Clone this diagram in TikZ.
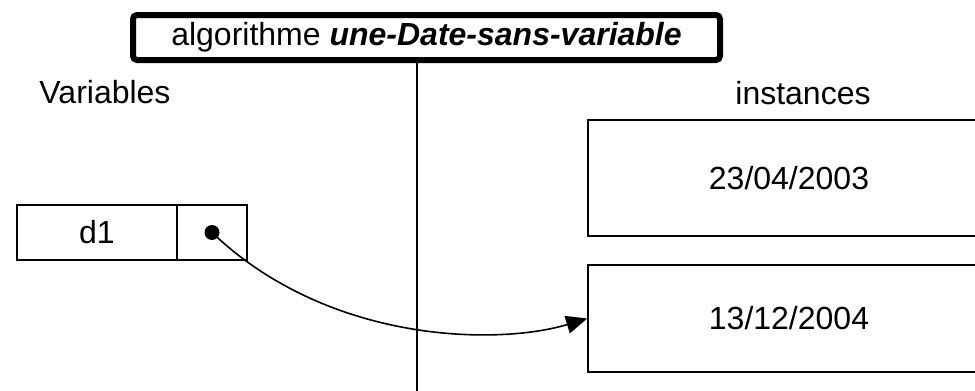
\documentclass[tikz,border=0pt]{standalone}
\usepackage{fontspec}
\setmainfont{Liberation Sans}
\usetikzlibrary{arrows.meta}
\tikzset{
  txt/.style={font=\fontsize{32}{38}\selectfont, inner sep=0pt},
  cell/.style={draw, line width=1.6pt, txt, minimum height=55pt},
  inst/.style={draw, line width=1.6pt, txt, minimum width=402pt},
  titlebox/.style={draw, line width=6pt, rounded corners=4pt, txt, minimum width=587pt, minimum height=45pt},
  link/.style={line width=1.6pt, -{Triangle[length=21pt,width=18pt]}}
}
\begin{document}
\begin{tikzpicture}[x=1pt, y=-1pt]
  \useasboundingbox (0,0) rectangle (975,391);
  \clip (0,0) rectangle (975,391);
  \node[titlebox] (title) at (426.5,37.5) {algorithme \textbf{\textit{une-Date-sans-variable}}};
  \coordinate (vbot) at (417,391);
  \draw[line width=1.6pt] (title.south -| vbot) -- (vbot);
  \node[txt] (vars) at (105,92) {Variables};
  \node[txt] (insts) at (803,93) {instances};
  \node[cell, minimum width=160pt] (d1) at (97,232.5) {d1};
  \node[cell, minimum width=70pt] (ptr) at (212,232.5) {};
  \node[inst, minimum height=116pt] (b1) at (789,178) {23/04/2003};
  \node[inst, minimum height=107pt] (b2) at (789,318.5) {13/12/2004};
  \fill (ptr.center) circle (7.5pt);
  \draw[link] (ptr.center) .. controls (330,345) and (500,345) .. (b2.west);
\end{tikzpicture}
\end{document}
